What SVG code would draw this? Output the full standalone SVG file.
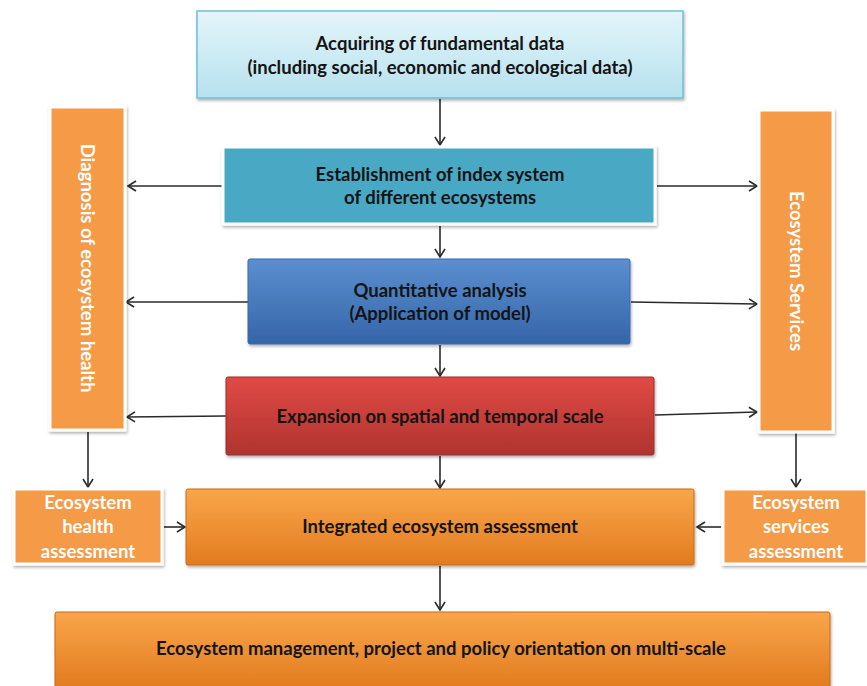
<svg xmlns="http://www.w3.org/2000/svg" width="867" height="686" viewBox="0 0 867 686">
<style>
.t{font-family:Lato,"Liberation Sans",sans-serif;font-weight:bold;font-size:18.5px;fill:#141414;text-anchor:middle}
.w{fill:#ffffff}
.c{stroke:#2a2a2a;stroke-width:1.6;fill:none;marker-end:url(#ah)}
.bd{stroke:#ffffff;stroke-width:3}
</style>
<defs>
<marker id="ah" markerWidth="12" markerHeight="12" refX="10" refY="6" orient="auto" markerUnits="userSpaceOnUse">
<path d="M2,1 L10,6 L2,11" fill="none" stroke="#2a2a2a" stroke-width="1.6"/>
</marker>
<filter id="sh" x="-10%" y="-10%" width="120%" height="130%">
<feDropShadow dx="1" dy="2" stdDeviation="1.5" flood-color="#000" flood-opacity="0.3"/>
</filter>
<linearGradient id="g1" x1="0" y1="0" x2="0" y2="1"><stop offset="0" stop-color="#e4f5fa"/><stop offset="1" stop-color="#b6e1ee"/></linearGradient>
<linearGradient id="g3" x1="0" y1="0" x2="0" y2="1"><stop offset="0" stop-color="#5b8fd0"/><stop offset="1" stop-color="#3565a8"/></linearGradient>
<linearGradient id="g4" x1="0" y1="0" x2="0" y2="1"><stop offset="0" stop-color="#e04a45"/><stop offset="1" stop-color="#b0332f"/></linearGradient>
<linearGradient id="g5" x1="0" y1="0" x2="0" y2="1"><stop offset="0" stop-color="#f9a64a"/><stop offset="1" stop-color="#e27b1f"/></linearGradient>
</defs>
<rect width="867" height="686" fill="#ffffff"/>
<g id="connectors">
<line class="c" x1="440" y1="99" x2="440" y2="145"/>
<line class="c" x1="440" y1="226" x2="440" y2="257"/>
<line class="c" x1="440" y1="345" x2="440" y2="376"/>
<line class="c" x1="440" y1="456" x2="440" y2="488"/>
<line class="c" x1="440" y1="566" x2="440" y2="610"/>
<line class="c" x1="222" y1="186" x2="128" y2="186"/>
<line class="c" x1="248" y1="302" x2="126" y2="302"/>
<line class="c" x1="226" y1="416" x2="127" y2="417"/>
<line class="c" x1="657" y1="186" x2="757" y2="186"/>
<line class="c" x1="631" y1="302" x2="757" y2="304"/>
<line class="c" x1="655" y1="415" x2="757" y2="412"/>
<line class="c" x1="88" y1="432" x2="88" y2="487"/>
<line class="c" x1="796" y1="433" x2="796" y2="487"/>
<line class="c" x1="164" y1="527" x2="185" y2="527"/>
<line class="c" x1="721" y1="527" x2="697" y2="527"/>
</g>
<g id="n-acquire">
<rect x="197" y="11" width="486" height="87" fill="url(#g1)" stroke="#6cc0d6" stroke-width="1.5" filter="url(#sh)"/>
<text class="t" x="440" y="50">Acquiring of fundamental data</text>
<text class="t" x="440" y="74">(including social, economic and ecological data)</text>
</g>
<g id="n-index">
<rect x="223" y="147" width="432" height="77" fill="#4aa8c4" class="bd" filter="url(#sh)"/>
<text class="t" x="440" y="181">Establishment of index system</text>
<text class="t" x="440" y="204">of different ecosystems</text>
</g>
<g id="n-quant">
<rect x="248" y="259" width="382" height="85" rx="2" fill="url(#g3)" stroke="#3a6aa8" stroke-width="1" filter="url(#sh)"/>
<text class="t" x="440" y="297">Quantitative analysis</text>
<text class="t" x="440" y="320">(Application of model)</text>
</g>
<g id="n-expansion">
<rect x="226" y="377" width="428" height="78" rx="2" fill="url(#g4)" stroke="#9a2e2b" stroke-width="1" filter="url(#sh)"/>
<text class="t" x="440" y="423">Expansion on spatial and temporal scale</text>
</g>
<g id="n-integrated">
<rect x="186" y="489" width="508" height="76" rx="2" fill="url(#g5)" stroke="#c8691a" stroke-width="1" filter="url(#sh)"/>
<text class="t" x="440" y="533">Integrated ecosystem assessment</text>
</g>
<g id="n-management">
<rect x="55" y="612" width="775" height="76" rx="2" fill="url(#g5)" stroke="#c8691a" stroke-width="1" filter="url(#sh)"/>
<text class="t" x="441" y="655">Ecosystem management, project and policy orientation on multi-scale</text>
</g>
<g id="n-diagnosis">
<rect x="50" y="107" width="75" height="323" fill="#f59a47" class="bd" filter="url(#sh)"/>
<text class="t w" transform="translate(81,268) rotate(90)">Diagnosis of ecosystem health</text>
</g>
<g id="n-services">
<rect x="759" y="110" width="74" height="322" fill="#f59a47" class="bd" filter="url(#sh)"/>
<text class="t w" transform="translate(790,271) rotate(90)">Ecosystem Services</text>
</g>
<g id="n-health-assess">
<rect x="14" y="489" width="148" height="75" fill="#f59a47" class="bd" filter="url(#sh)"/>
<text class="t w" x="88" y="509">Ecosystem</text>
<text class="t w" x="88" y="533">health</text>
<text class="t w" x="88" y="558">assessment</text>
</g>
<g id="n-services-assess">
<rect x="723" y="489" width="144" height="75" fill="#f59a47" class="bd" filter="url(#sh)"/>
<text class="t w" x="796" y="509">Ecosystem</text>
<text class="t w" x="796" y="533">services</text>
<text class="t w" x="796" y="558">assessment</text>
</g>
</svg>
